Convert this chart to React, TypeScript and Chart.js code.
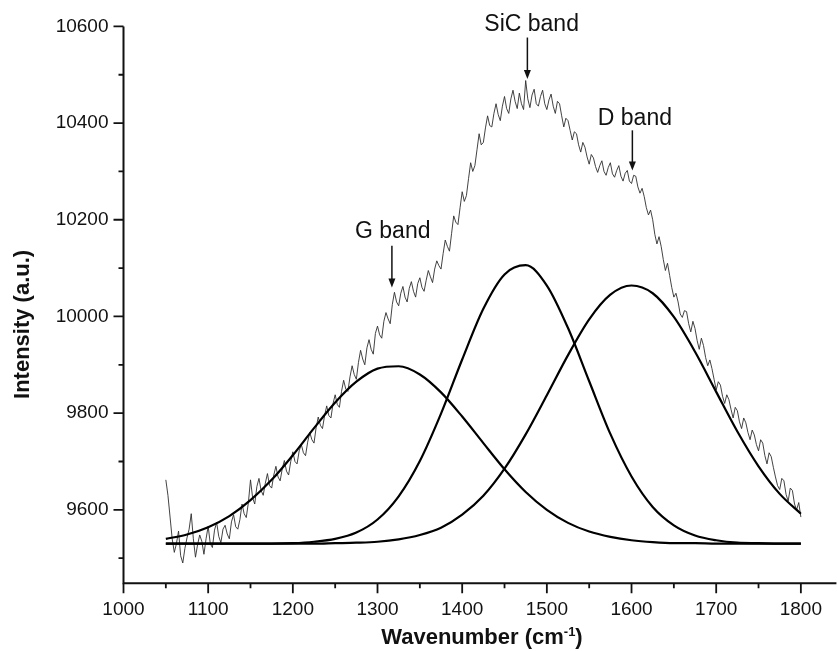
import React, { useEffect, useRef } from 'react';
import { Chart, registerables } from 'chart.js';

Chart.register(...registerables);

// ---------- data ----------
const spectrumStart = 1050;
const spectrumStep = 2.5;
const spectrumIntensity = [
  9662, 9630, 9585, 9540, 9512, 9530, 9556, 9505, 9490, 9520, 9542, 9560, 9592, 9540, 9502, 9528, 9548, 9535, 9508, 9540,
  9566, 9530, 9522, 9558, 9574, 9545, 9532, 9560, 9568, 9550, 9540, 9575, 9590, 9565, 9560, 9580, 9612, 9592, 9584, 9615,
  9662, 9625, 9612, 9648, 9665, 9640, 9630, 9655, 9675, 9650, 9645, 9672, 9690, 9668, 9660, 9685, 9702, 9680, 9672, 9700,
  9720, 9700, 9695, 9722, 9735, 9718, 9712, 9740, 9760, 9745, 9738, 9770, 9792, 9775, 9768, 9795, 9815, 9795, 9790, 9820,
  9838, 9818, 9812, 9845, 9868, 9850, 9845, 9875, 9898, 9880, 9870, 9905, 9930, 9912, 9900, 9935, 9952, 9932, 9922, 9965,
  9980, 9962, 9955, 9990, 10008, 9995, 9985, 10025, 10050, 10030, 10022, 10048, 10062, 10040, 10030, 10058, 10072, 10052, 10040, 10068,
  10080, 10060, 10052, 10075, 10095, 10082, 10070, 10098, 10115, 10105, 10098, 10130, 10158, 10145, 10135, 10172, 10208, 10195, 10190, 10225,
  10258, 10238, 10250, 10285, 10318, 10300, 10312, 10345, 10378, 10355, 10360, 10390, 10415, 10395, 10392, 10420, 10440, 10418, 10405, 10435,
  10455, 10430, 10420, 10450, 10468, 10445, 10430, 10462, 10440, 10428, 10488, 10450, 10432, 10458, 10470, 10440, 10435, 10455, 10468, 10440,
  10428, 10448, 10460, 10435, 10420, 10445, 10440, 10415, 10392, 10410, 10405, 10385, 10365, 10382, 10378, 10355, 10340, 10360, 10350, 10330,
  10315, 10335, 10328, 10310, 10298, 10312, 10322, 10300, 10292, 10308, 10318, 10295, 10288, 10302, 10312, 10290, 10280, 10296, 10302, 10280,
  10275, 10292, 10290, 10268, 10255, 10265, 10248, 10225, 10210, 10220, 10200, 10170, 10150, 10165, 10145, 10118, 10095, 10110, 10085, 10060,
  10040, 10048, 10030, 10005, 9998, 10012, 10010, 9985, 9968, 9990, 9975, 9950, 9932, 9955, 9940, 9915, 9898, 9910, 9892, 9870,
  9848, 9865, 9858, 9835, 9820, 9838, 9828, 9808, 9790, 9812, 9805, 9782, 9768, 9790, 9780, 9760, 9745, 9765, 9755, 9735,
  9722, 9745, 9738, 9712, 9695, 9718, 9710, 9688, 9668, 9650, 9642, 9665, 9660, 9632, 9618, 9645, 9640, 9612, 9600, 9615,
  9585,
];

const fitWavenumber = [
  1050, 1075, 1100, 1125, 1150, 1175, 1200, 1225, 1250, 1275, 1300,
  1325, 1350, 1375, 1400, 1425, 1450, 1475, 1500, 1525, 1550, 1575,
  1600, 1625, 1650, 1675, 1700, 1725, 1750, 1775, 1800,
];
const gBandFit = [
  9540, 9549, 9564, 9587, 9620, 9662, 9713, 9769, 9822, 9865, 9892,
  9897, 9880, 9843, 9793, 9738, 9684, 9637, 9600, 9573, 9555, 9544,
  9537, 9533, 9531, 9531, 9530, 9530, 9530, 9530, 9530,
];
const sicBandFit = [
  9530, 9530, 9530, 9530, 9530, 9530, 9531, 9534, 9540, 9553, 9580,
  9628, 9701, 9799, 9911, 10016, 10087, 10106, 10064, 9976, 9866, 9757,
  9669, 9606, 9568, 9547, 9537, 9532, 9531, 9530, 9530,
];
const dBandFit = [
  9530, 9530, 9530, 9530, 9530, 9530, 9530, 9530, 9531, 9532, 9534,
  9539, 9548, 9563, 9590, 9629, 9685, 9756, 9837, 9920, 9994, 10045,
  10064, 10048, 9999, 9927, 9844, 9762, 9690, 9633, 9592,
];

const xTickValues = [1000, 1100, 1200, 1300, 1400, 1500, 1600, 1700, 1800];
const xTickLabels = ['1000', '1100', '1200', '1300', '1400', '1500', '1600', '1700', '1800'];
const xMinorTicks = [1050, 1150, 1250, 1350, 1450, 1550, 1650, 1750];
const yTickValues = [9600, 9800, 10000, 10200, 10400, 10600];
const yTickLabels = ['9600', '9800', '10000', '10200', '10400', '10600'];
const yMinorTicks = [9500, 9700, 9900, 10100, 10300, 10500];

const bandLabels = ['G band', 'SiC band', 'D band'];
const bandLabelX = [1318, 1482, 1604];
const bandLabelY = [10175, 10603, 10409];
const bandArrowX = [1317, 1477, 1601];
const bandArrowTop = [10146, 10577, 10385];
const bandArrowTip = [10060, 10491, 10302];

const xAxisMin = 1000;
const xAxisMax = 1842;
const yAxisMin = 9448;
const yAxisMax = 10600;

const xTitle = 'Wavenumber (cm';
const xTitleSup = '-1';
const xTitleEnd = ')';
const yTitle = 'Intensity (a.u.)';

// ---------- styling ----------
const FONT = '"Liberation Sans", Arial, Helvetica, sans-serif';
const INK = '#111';

const axesPlugin = {
  id: 'originAxes',
  afterDraw(chart: any) {
    const { ctx, chartArea: a, scales } = chart;
    const x = scales.x;
    const y = scales.y;
    ctx.save();
    ctx.strokeStyle = INK;
    ctx.lineWidth = 2;
    ctx.beginPath();
    ctx.moveTo(a.left, y.getPixelForValue(yAxisMax));
    ctx.lineTo(a.left, a.bottom);
    ctx.lineTo(a.right, a.bottom);
    ctx.stroke();

    ctx.lineWidth = 1.8;
    ctx.beginPath();
    xTickValues.forEach((v) => {
      const p = x.getPixelForValue(v);
      ctx.moveTo(p, a.bottom);
      ctx.lineTo(p, a.bottom + 10);
    });
    xMinorTicks.forEach((v) => {
      const p = x.getPixelForValue(v);
      ctx.moveTo(p, a.bottom);
      ctx.lineTo(p, a.bottom + 5);
    });
    yTickValues.forEach((v) => {
      const p = y.getPixelForValue(v);
      ctx.moveTo(a.left, p);
      ctx.lineTo(a.left - 10, p);
    });
    yMinorTicks.forEach((v) => {
      const p = y.getPixelForValue(v);
      ctx.moveTo(a.left, p);
      ctx.lineTo(a.left - 5, p);
    });
    ctx.stroke();

    // axis titles
    ctx.fillStyle = INK;
    ctx.textBaseline = 'alphabetic';
    ctx.textAlign = 'left';
    const mainFont = 'bold 22px ' + FONT;
    const supFont = 'bold 13px ' + FONT;
    ctx.font = mainFont;
    const w1 = ctx.measureText(xTitle).width;
    const w3 = ctx.measureText(xTitleEnd).width;
    ctx.font = supFont;
    const w2 = ctx.measureText(xTitleSup).width;
    const cx = (a.left + a.right) / 2 + 2;
    const base = a.bottom + 61;
    let sx = cx - (w1 + w2 + w3) / 2;
    ctx.font = mainFont;
    ctx.fillText(xTitle, sx, base);
    sx += w1;
    ctx.font = supFont;
    ctx.fillText(xTitleSup, sx, base - 8);
    sx += w2;
    ctx.font = mainFont;
    ctx.fillText(xTitleEnd, sx, base);

    ctx.save();
    ctx.translate(23, a.top + 298);
    ctx.rotate(-Math.PI / 2);
    ctx.textAlign = 'center';
    ctx.textBaseline = 'middle';
    ctx.font = mainFont;
    ctx.fillText(yTitle, 0, 0);
    ctx.restore();

    // band annotations
    ctx.font = '23px ' + FONT;
    ctx.textAlign = 'center';
    ctx.textBaseline = 'middle';
    ctx.lineWidth = 1.5;
    bandLabels.forEach((lab, i) => {
      ctx.fillText(lab, x.getPixelForValue(bandLabelX[i]), y.getPixelForValue(bandLabelY[i]));
      const px = x.getPixelForValue(bandArrowX[i]);
      const top = y.getPixelForValue(bandArrowTop[i]);
      const tip = y.getPixelForValue(bandArrowTip[i]);
      ctx.beginPath();
      ctx.moveTo(px, top);
      ctx.lineTo(px, tip - 8);
      ctx.stroke();
      ctx.beginPath();
      ctx.moveTo(px - 3.5, tip - 9);
      ctx.lineTo(px + 3.5, tip - 9);
      ctx.lineTo(px, tip);
      ctx.closePath();
      ctx.fill();
    });
    ctx.restore();
  },
};

export default function App() {
  const canvasRef = useRef<HTMLCanvasElement | null>(null);

  useEffect(() => {
    document.body.style.margin = '0';
    const canvas = canvasRef.current;
    if (!canvas) return;

    const spectrum = spectrumIntensity.map((v, i) => ({ x: spectrumStart + i * spectrumStep, y: v }));
    const fit = (arr: number[]) => fitWavenumber.map((w, i) => ({ x: w, y: arr[i] }));

    const fitStyle = {
      borderColor: '#000',
      borderWidth: 2.2,
      pointRadius: 0,
      cubicInterpolationMode: 'monotone' as const,
      fill: false,
    };

    const chart = new Chart(canvas, {
      type: 'line',
      data: {
        datasets: [
          { label: 'G band', data: fit(gBandFit), ...fitStyle },
          { label: 'SiC band', data: fit(sicBandFit), ...fitStyle },
          { label: 'D band', data: fit(dBandFit), ...fitStyle },
          {
            label: 'Spectrum',
            data: spectrum,
            borderColor: '#2e2e2e',
            borderWidth: 0.9,
            pointRadius: 0,
            tension: 0,
            fill: false,
          },
        ],
      },
      options: {
        animation: false,
        responsive: false,
        devicePixelRatio: 1,
        parsing: false as any,
        normalized: true,
        layout: { padding: { top: 21.7, left: 0, right: 0, bottom: 0 } },
        plugins: {
          legend: { display: false },
          tooltip: { enabled: false },
        },
        scales: {
          x: {
            type: 'linear',
            min: xAxisMin,
            max: xAxisMax,
            grid: { display: false, drawTicks: false },
            border: { display: false },
            afterBuildTicks: (scale: any) => {
              scale.ticks = xTickValues.map((v) => ({ value: v }));
            },
            afterFit: (scale: any) => {
              scale.height = 67.7;
            },
            ticks: {
              autoSkip: false,
              maxRotation: 0,
              padding: 15,
              color: INK,
              font: { family: FONT, size: 19 },
              callback: (_v: any, i: number) => xTickLabels[i],
            },
          },
          y: {
            type: 'linear',
            min: yAxisMin,
            max: yAxisMax,
            grid: { display: false, drawTicks: false },
            border: { display: false },
            afterBuildTicks: (scale: any) => {
              scale.ticks = yTickValues.map((v) => ({ value: v }));
            },
            afterFit: (scale: any) => {
              scale.width = 123.5;
            },
            ticks: {
              autoSkip: false,
              padding: 15,
              color: INK,
              font: { family: FONT, size: 19 },
              callback: (_v: any, i: number) => yTickLabels[i],
            },
          },
        },
      },
      plugins: [axesPlugin],
    });

    return () => chart.destroy();
  }, []);

  return (
    <div style={{ position: 'absolute', left: 0, top: 0, width: 837, height: 651, background: '#fff' }}>
      <canvas ref={canvasRef} width={837} height={651} style={{ display: 'block' }} />
    </div>
  );
}
